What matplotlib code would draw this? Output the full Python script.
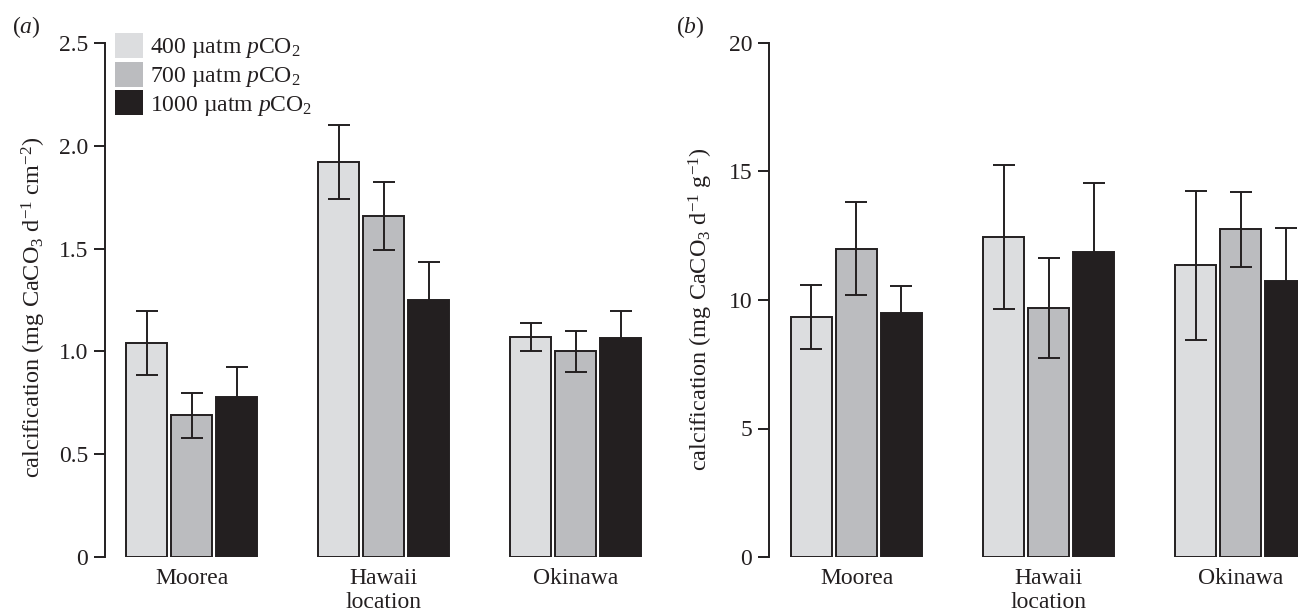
import matplotlib
matplotlib.use("Agg")
import matplotlib.pyplot as plt
from matplotlib.patches import Patch
import numpy as np

plt.rcParams['font.family'] = ['Liberation Serif', 'DejaVu Serif']
plt.rcParams['mathtext.fontset'] = 'custom'
plt.rcParams['mathtext.rm'] = 'Liberation Serif'
plt.rcParams['mathtext.it'] = 'Liberation Serif:italic'
plt.rcParams['mathtext.bf'] = 'Liberation Serif:bold'

locations = ["Moorea", "Hawaii", "Okinawa"]
treatments = ["400 µatm $p$CO$_2$", "700 µatm $p$CO$_2$", "1000 µatm $p$CO$_2$"]

# panel (a): calcification per area (mg CaCO3 d-1 cm-2)
a_means = {
    "400": [1.04, 1.92, 1.07],
    "700": [0.69, 1.66, 1.00],
    "1000": [0.78, 1.25, 1.065],
}
a_err = {
    "400": [0.155, 0.18, 0.07],
    "700": [0.11, 0.165, 0.10],
    "1000": [0.145, 0.185, 0.13],
}
# panel (b): calcification per mass (mg CaCO3 d-1 g-1)
b_means = {
    "400": [9.35, 12.45, 11.35],
    "700": [12.0, 9.7, 12.75],
    "1000": [9.5, 11.85, 10.75],
}
b_err = {
    "400": [1.25, 2.8, 2.9],
    "700": [1.8, 1.95, 1.45],
    "1000": [1.05, 2.7, 2.05],
}
a_ticks = [0, 0.5, 1.0, 1.5, 2.0, 2.5]
a_ticklabels = ["0", "0.5", "1.0", "1.5", "2.0", "2.5"]
b_ticks = [0, 5, 10, 15, 20]
b_ticklabels = ["0", "5", "10", "15", "20"]

colors = ["#dcdddf", "#bbbcbf", "#231f20"]
dark = "#231f20"
keys = ["400", "700", "1000"]

W, H = 1298, 612
fig = plt.figure(figsize=(W / 100, H / 100), dpi=100)

bottom_px, top_px = 557, 43
pxu = 192.0  # pixels per group
bw = 41 / pxu
pitch = 45 / pxu


def make_axes(axis_px, center0_px, xmax_units):
    xmin = (axis_px - center0_px) / pxu
    left = axis_px / W
    width = (xmax_units - xmin) * pxu / W
    ax = fig.add_axes([left, (H - bottom_px) / H, width, (bottom_px - top_px) / H])
    ax.set_xlim(xmin, xmax_units)
    return ax, xmin


def draw(ax, means, errs, ymax, ticks, ticklabels, ylabel, xmin, xmax,
         ylab_right_px, ylab_center_px, ylab_size):
    x = np.arange(len(locations))
    for i, k in enumerate(keys):
        xi = x + (i - 1) * pitch
        ax.bar(xi, means[k], width=bw, color=colors[i], edgecolor=dark,
               linewidth=1.4, zorder=2)
        ax.errorbar(xi, means[k], yerr=errs[k], fmt='none', ecolor=dark,
                    elinewidth=1.4, capsize=8, capthick=1.4, zorder=3)
    ax.set_ylim(0, ymax)
    ax.set_yticks(ticks)
    ax.set_yticklabels(ticklabels)
    ax.set_xticks(x)
    ax.set_xticklabels(locations)
    for s in ["top", "right", "bottom"]:
        ax.spines[s].set_visible(False)
    ax.spines["left"].set_linewidth(1.4)
    ax.spines["left"].set_color(dark)
    ax.tick_params(axis='y', length=8, width=1.4, color=dark, labelsize=17,
                   pad=4, labelcolor=dark)
    ax.tick_params(axis='x', length=0, labelsize=17, pad=8, labelcolor=dark)
    ax.set_ylabel(ylabel, fontsize=ylab_size, color=dark)
    axis_px = ax.get_position().x0 * W
    width_px = ax.get_position().width * W
    ax.yaxis.set_label_coords((ylab_right_px - axis_px) / width_px,
                              (bottom_px - ylab_center_px) / (bottom_px - top_px))
    ax.set_xlabel("location", fontsize=17, color=dark)
    ax.xaxis.set_label_coords((1 - xmin) / (xmax - xmin), -0.068)


axa, xmina = make_axes(105, 191.5, 2.45)
draw(axa, a_means, a_err, 2.5, a_ticks, a_ticklabels,
     "calcification (mg CaCO$_3$ d$^{-1}$ cm$^{-2}$)", xmina, 2.45,
     48, 307, 17.5)
axb, xminb = make_axes(769, 856.5, 2.5)
draw(axb, b_means, b_err, 20, b_ticks, b_ticklabels,
     "calcification (mg CaCO$_3$ d$^{-1}$ g$^{-1}$)", xminb, 2.5,
     715, 309, 17.5)

handles = [Patch(facecolor=c, edgecolor='none') for c in colors]
fig.legend(handles, treatments, loc='upper left',
           bbox_to_anchor=(115 / W, 1 - 33 / H), frameon=False,
           fontsize=17, handlelength=1.2, handleheight=1.25,
           handletextpad=0.3, labelspacing=0.05, borderpad=0,
           borderaxespad=0, labelcolor=dark)

fig.text(12 / W, 1 - 27 / H, "($a$)", fontsize=17, color=dark, va='center')
fig.text(676 / W, 1 - 27 / H, "($b$)", fontsize=17, color=dark, va='center')

fig.savefig("out.png", dpi=100)
